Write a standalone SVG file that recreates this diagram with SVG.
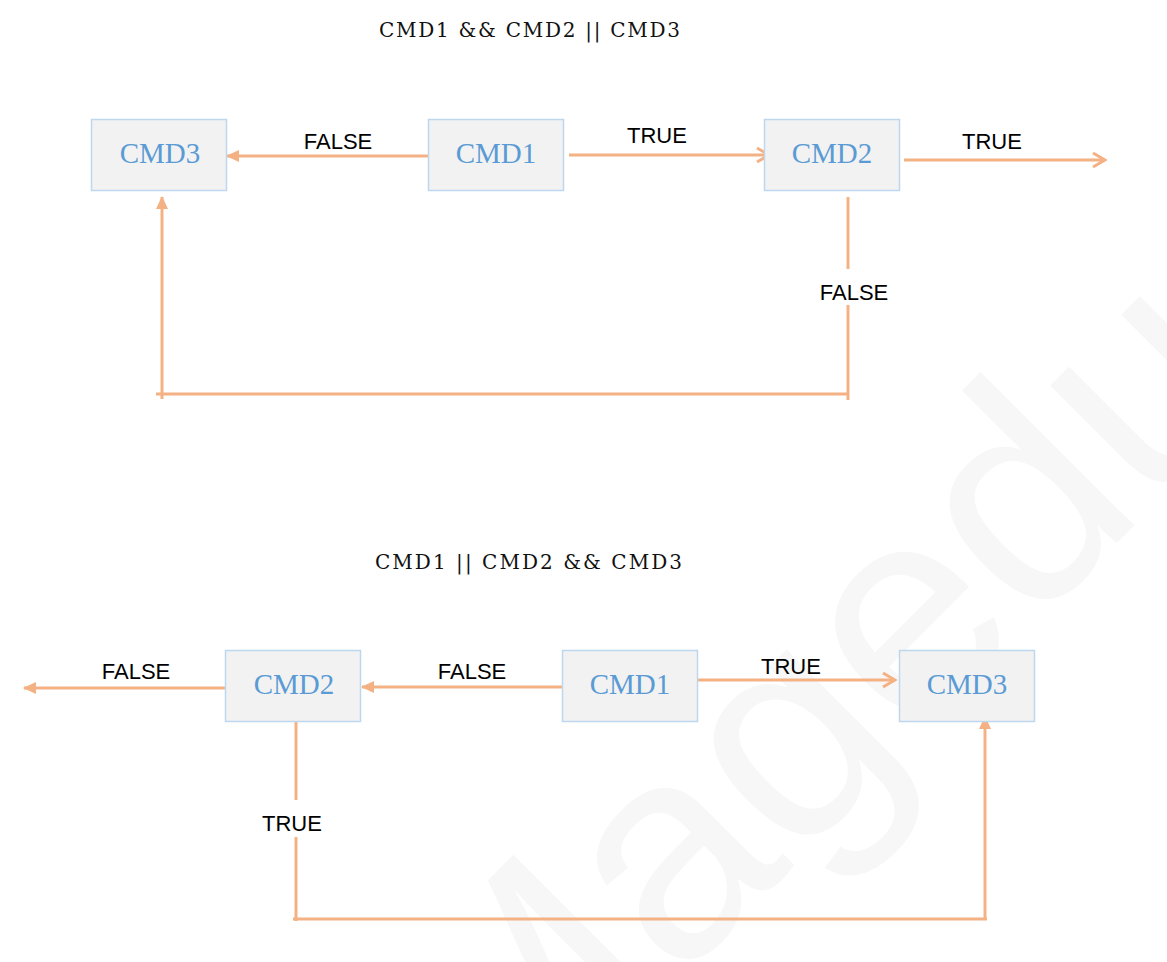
<svg xmlns="http://www.w3.org/2000/svg" width="1167" height="962" viewBox="0 0 1167 962">
<style>
.box{fill:#f2f2f2;stroke:#bdd7ee;stroke-width:1.5}
.cmd{font-family:"Liberation Serif",serif;font-size:29px;fill:#5b9bd5;text-anchor:middle}
.title{font-family:"DejaVu Serif","Liberation Serif",serif;font-size:20px;fill:#111}
.lbl{font-family:"Liberation Sans",Arial,sans-serif;font-size:22px;fill:#000;text-anchor:middle}
.ln{fill:none;stroke:#f4b183;stroke-width:3}
.wm{font-family:"Liberation Sans",Arial,sans-serif;font-size:300px;fill:#f7f7f7}
</style>
<defs>
<marker id="fill" markerUnits="userSpaceOnUse" markerWidth="14" markerHeight="12" refX="12" refY="6" orient="auto">
<path d="M0,0 L13,6 L0,12 z" fill="#f4b183"/>
</marker>
<marker id="open" markerUnits="userSpaceOnUse" markerWidth="16" markerHeight="18" refX="14" refY="9" orient="auto">
<path d="M2,2 L14,9 L2,16" fill="none" stroke="#f4b183" stroke-width="3"/>
</marker>
</defs>
<rect width="1167" height="962" fill="#fff"/>
<text class="wm" transform="translate(500,1160) rotate(-45)">Magedu</text>

<text class="title" x="379" y="37" textLength="301" lengthAdjust="spacing">CMD1 &amp;&amp; CMD2 || CMD3</text>
<text class="title" x="375" y="569" textLength="307" lengthAdjust="spacing">CMD1 || CMD2  &amp;&amp; CMD3</text>

<g id="connectors">
<line class="ln" x1="428" y1="156" x2="227" y2="156" marker-end="url(#fill)"/>
<line class="ln" x1="569" y1="155" x2="769" y2="155" marker-end="url(#open)"/>
<line class="ln" x1="904" y1="160" x2="1105" y2="160" marker-end="url(#open)"/>
<line class="ln" x1="848" y1="197" x2="848" y2="269"/>
<line class="ln" x1="848" y1="305" x2="848" y2="400"/>
<line class="ln" x1="156" y1="394" x2="849" y2="394"/>
<line class="ln" x1="162" y1="399" x2="162" y2="197" marker-end="url(#fill)"/>

<line class="ln" x1="226" y1="688" x2="24" y2="688" marker-end="url(#fill)"/>
<line class="ln" x1="563" y1="687" x2="362" y2="687" marker-end="url(#fill)"/>
<line class="ln" x1="695" y1="680" x2="895" y2="680" marker-end="url(#open)"/>
<line class="ln" x1="296" y1="721" x2="296" y2="800"/>
<line class="ln" x1="296" y1="837" x2="296" y2="921"/>
<line class="ln" x1="293" y1="919" x2="987" y2="919"/>
<line class="ln" x1="985" y1="920" x2="985" y2="717" marker-end="url(#fill)"/>

<text class="lbl" x="338" y="149">FALSE</text>
<text class="lbl" x="657" y="143">TRUE</text>
<text class="lbl" x="992" y="149">TRUE</text>
<text class="lbl" x="854" y="300">FALSE</text>
<text class="lbl" x="136" y="679">FALSE</text>
<text class="lbl" x="472" y="679">FALSE</text>
<text class="lbl" x="791" y="674">TRUE</text>
<text class="lbl" x="292" y="831">TRUE</text>
</g>

<g id="top-cmd3"><rect class="box" x="91.5" y="119.5" width="135" height="71"/><text class="cmd" x="160" y="163">CMD3</text></g>
<g id="top-cmd1"><rect class="box" x="428.5" y="119.5" width="135" height="71"/><text class="cmd" x="496" y="163">CMD1</text></g>
<g id="top-cmd2"><rect class="box" x="764.5" y="119.5" width="135" height="71"/><text class="cmd" x="832" y="163">CMD2</text></g>

<g id="bot-cmd2"><rect class="box" x="225.5" y="650.5" width="135" height="71"/><text class="cmd" x="294" y="694">CMD2</text></g>
<g id="bot-cmd1"><rect class="box" x="562.5" y="650.5" width="135" height="71"/><text class="cmd" x="630" y="694">CMD1</text></g>
<g id="bot-cmd3"><rect class="box" x="899.5" y="650.5" width="135" height="71"/><text class="cmd" x="967" y="694">CMD3</text></g>
</svg>
